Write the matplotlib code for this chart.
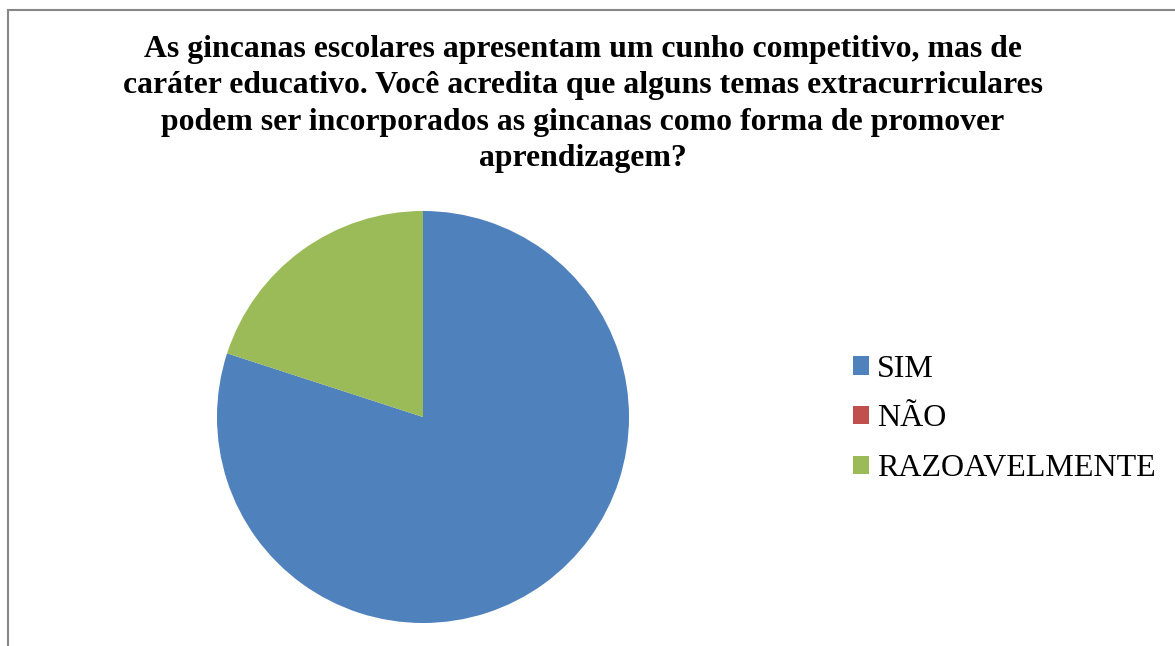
import matplotlib.pyplot as plt
from matplotlib.patches import Rectangle

plt.rcParams['font.family'] = ['Liberation Serif', 'DejaVu Serif']

categorias = ['SIM', 'NÃO', 'RAZOAVELMENTE']
valores = [80, 0, 20]
cores = ['#4F81BD', '#C0504D', '#9BBB59']
titulo = ('As gincanas escolares apresentam um cunho competitivo, mas de\n'
          'caráter educativo. Você acredita que alguns temas extracurriculares\n'
          'podem ser incorporados as gincanas como forma de promover\n'
          'aprendizagem?')

W, H = 1175, 646
fig = plt.figure(figsize=(W / 100, H / 100), dpi=100)

# moldura cinza (cortada a direita e embaixo)
fig.patches.append(Rectangle((8 / W, -0.05), 1.2, 1 - 10.5 / H + 0.05,
                             transform=fig.transFigure, fill=False,
                             edgecolor='#878787', linewidth=1.5))

cx, cy, r = 423, 417, 206
ax = fig.add_axes([(cx - r) / W, (H - cy - r) / H, 2 * r / W, 2 * r / H])
wedges, _ = ax.pie(valores, colors=cores, startangle=90, counterclock=False,
                   radius=1.0, wedgeprops=dict(linewidth=0))
ax.set_xlim(-1, 1)
ax.set_ylim(-1, 1)
ax.set_aspect('equal')
ax.axis('off')

fig.text(583 / W, 1 - 35 / H, titulo, ha='center', va='top', fontsize=22.9,
         fontweight='bold', linespacing=1.34)

leg = fig.legend(wedges, categorias, loc='center left',
                 bbox_to_anchor=(853 / W, 1 - 419 / H), frameon=False,
                 fontsize=23, handlelength=0.5, handleheight=0.5,
                 handletextpad=0.25, labelspacing=0.65, borderpad=0,
                 borderaxespad=0)

fig.savefig('out.png', dpi=100)
